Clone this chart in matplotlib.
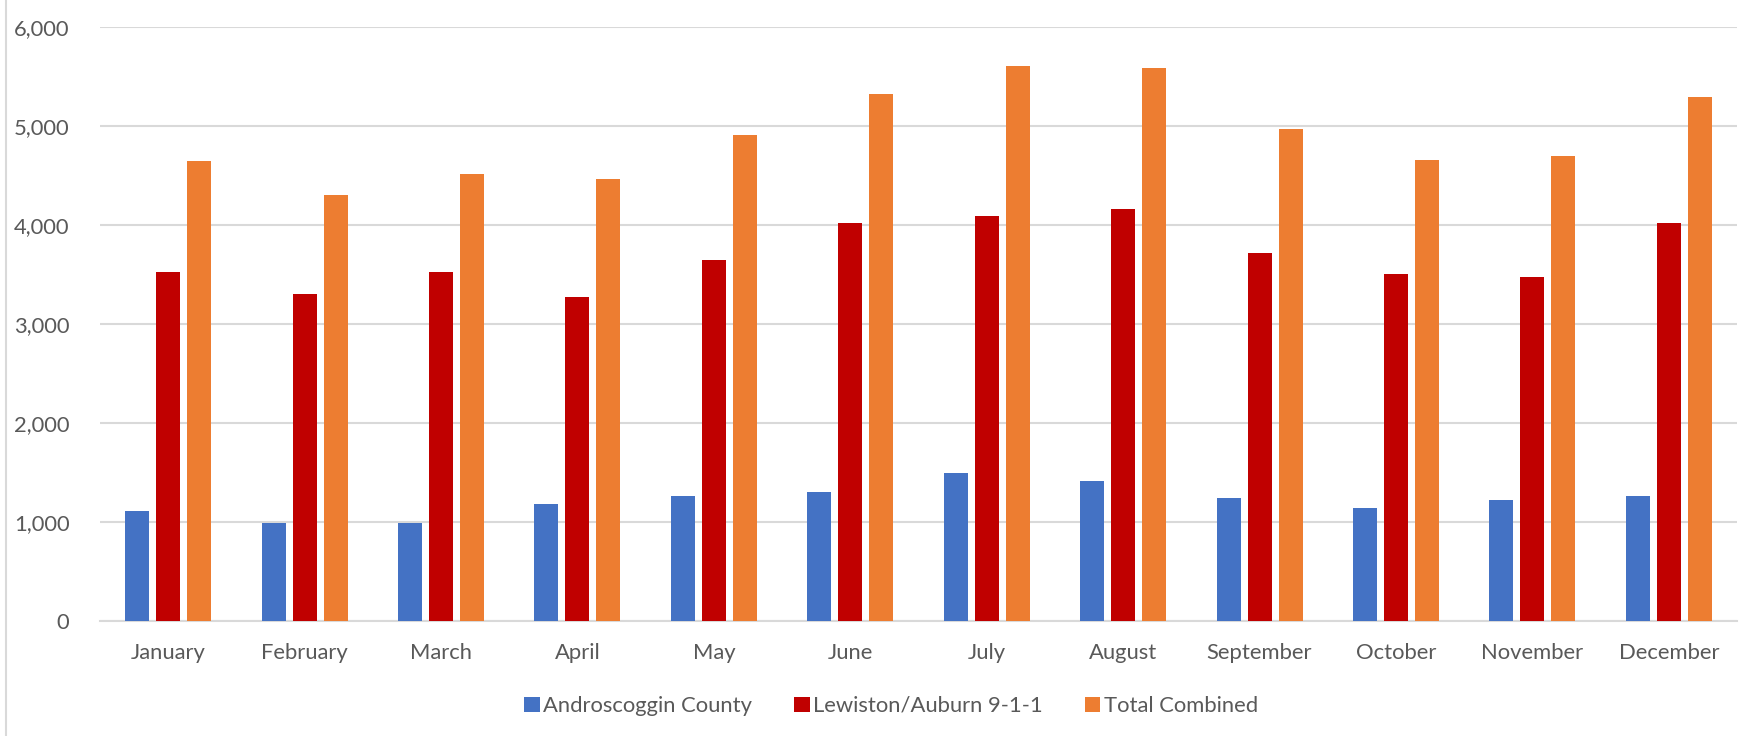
import matplotlib
matplotlib.use("Agg")
import matplotlib.pyplot as plt
import numpy as np
from matplotlib.lines import Line2D

months = ["January", "February", "March", "April", "May", "June",
          "July", "August", "September", "October", "November", "December"]
androscoggin = [1108, 990, 987, 1185, 1259, 1303, 1498, 1418, 1246, 1138, 1222, 1266]
lewiston = [3528, 3299, 3521, 3275, 3642, 4019, 4093, 4160, 3713, 3508, 3471, 4015]
total = [4644, 4298, 4513, 4466, 4907, 5324, 5600, 5586, 4967, 4651, 4698, 5290]
series_names = ["Androscoggin County", "Lewiston/Auburn 9-1-1", "Total Combined"]
colors = ["#4472C4", "#C00000", "#ED7D31"]
yticks = [0, 1000, 2000, 3000, 4000, 5000, 6000]

plt.rcParams['font.family'] = ['Lato', 'DejaVu Sans']

W, H = 1754, 736
fig = plt.figure(figsize=(W / 100, H / 100), dpi=100)
ax = fig.add_axes([100 / W, (H - 621) / H, 1637 / W, (621 - 26.7) / H])

x = np.arange(len(months))
bw = 0.176
off = 0.227
for i, (vals, name, c) in enumerate(zip([androscoggin, lewiston, total], series_names, colors)):
    ax.bar(x + (i - 1) * off, vals, width=bw, color=c, label=name, zorder=3)

ax.set_xlim(-0.5, len(months) - 0.5)
ax.set_ylim(0, 6000)
ax.set_yticks(yticks)
ax.set_yticklabels([f"{v:,}" for v in yticks])
ax.set_xticks(x)
ax.set_xticklabels(months)
ax.yaxis.grid(True, color="#d9d9d9", linewidth=1.5, zorder=0)
for s in ["top", "right", "left"]:
    ax.spines[s].set_visible(False)
ax.spines["bottom"].set_color("#d9d9d9")
ax.spines["bottom"].set_linewidth(1.5)
ax.tick_params(axis="both", length=0, labelsize=15.8, labelcolor="#595959")
ax.tick_params(axis="y", pad=22)
ax.tick_params(axis="x", pad=16)

leg = fig.legend(loc="center", bbox_to_anchor=(891 / W, (H - 706) / H), ncol=3,
                 frameon=False, fontsize=15.8, handlelength=0.72, handleheight=0.72,
                 columnspacing=1.9, handletextpad=0.15)
for t in leg.get_texts():
    t.set_color("#595959")

fig.add_artist(Line2D([6 / W, 6 / W], [0, 1], color="#d9d9d9", linewidth=1.5, transform=fig.transFigure))

fig.savefig("out.png", dpi=100, facecolor="white")
